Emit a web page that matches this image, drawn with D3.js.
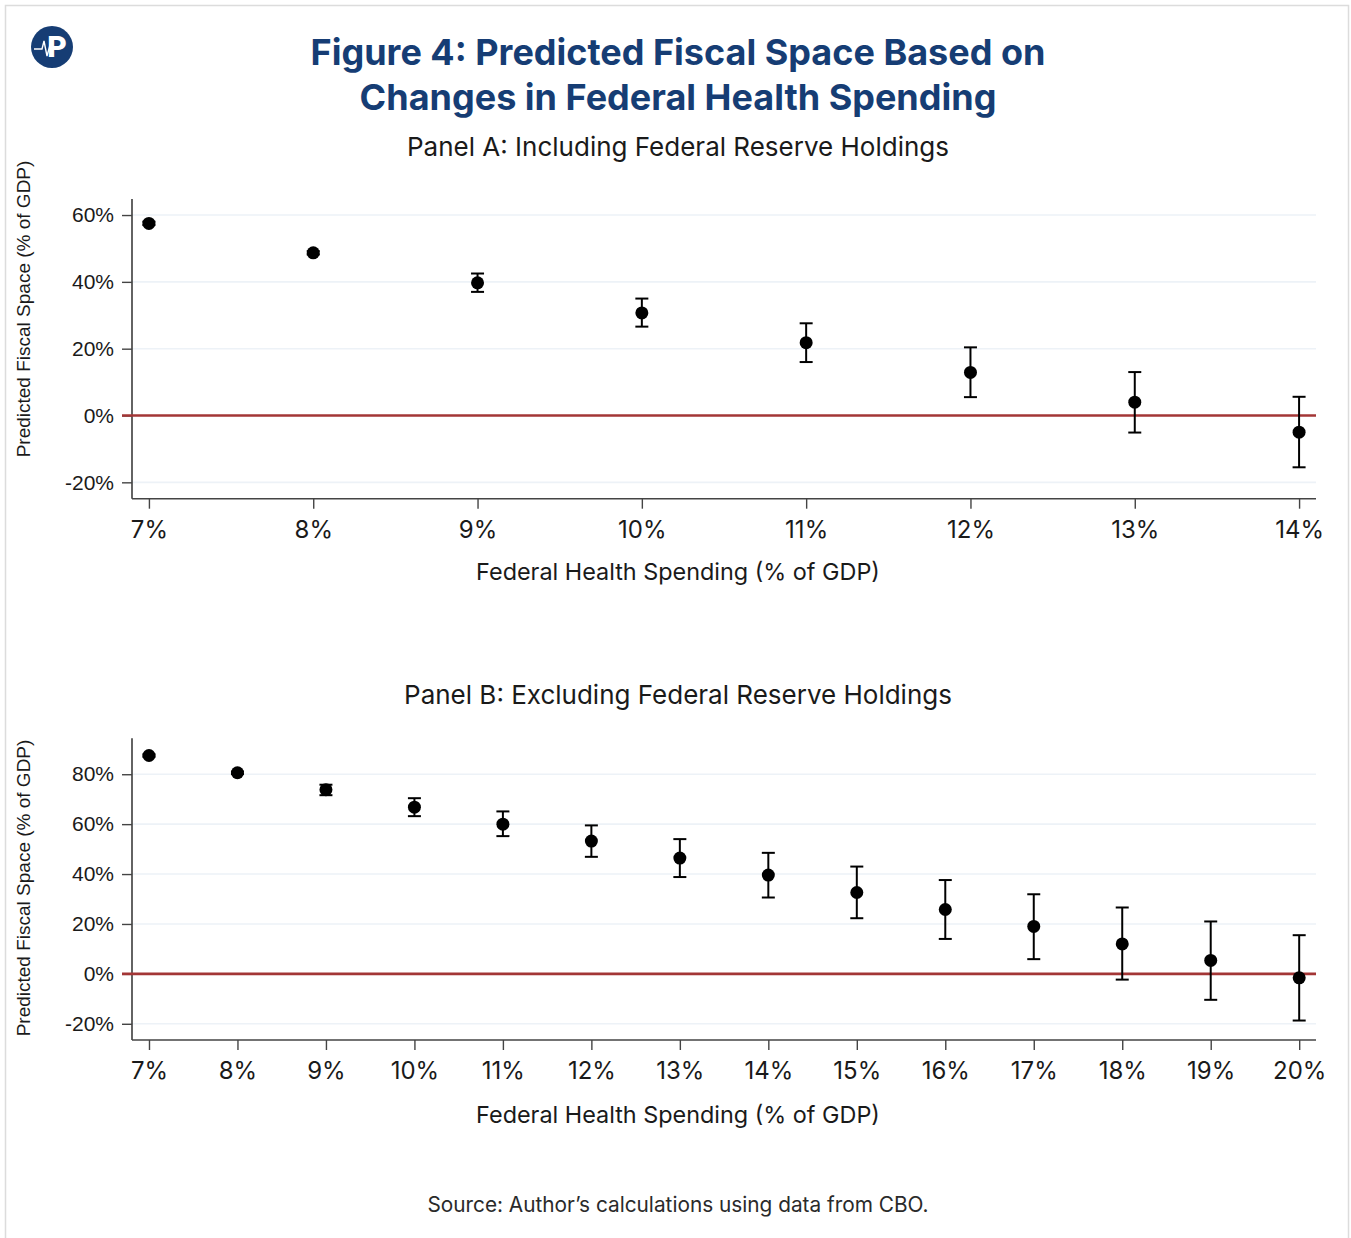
<!DOCTYPE html>
<html>
<head>
<meta charset="utf-8">
<script src="https://cdn.jsdelivr.net/npm/d3@7/dist/d3.min.js"></script>
<style>
  html, body { margin: 0; padding: 0; background: #fff; }
  svg { display: block; }
</style>
</head>
<body>
<svg id="chart" width="1351" height="1238"></svg>
<script>
// Panel A: including Federal Reserve holdings (health spending 7%–14% of GDP)
const panelAHealth = [7, 8, 9, 10, 11, 12, 13, 14];
const panelAFit    = [57.5, 48.7, 39.7, 30.7, 21.8, 12.9, 4.0, -5.0];
const panelALow    = [57.0, 48.2, 37.0, 26.6, 16.0, 5.5, -5.1, -15.5];
const panelAHigh   = [58.0, 49.2, 42.5, 35.0, 27.6, 20.4, 13.0, 5.6];
const panelATicksY = [-20, 0, 20, 40, 60];

// Panel B: excluding Federal Reserve holdings (health spending 7%–20% of GDP)
const panelBHealth = [7, 8, 9, 10, 11, 12, 13, 14, 15, 16, 17, 18, 19, 20];
const panelBFit    = [87.5, 80.6, 73.8, 66.8, 60.0, 53.2, 46.4, 39.6, 32.6, 25.8, 19.0, 12.0, 5.4, -1.6];
const panelBLow    = [87.0, 80.1, 71.6, 63.2, 55.2, 46.9, 38.8, 30.6, 22.3, 14.0, 5.9, -2.3, -10.4, -18.7];
const panelBHigh   = [88.0, 81.1, 75.8, 70.4, 65.1, 59.5, 54.0, 48.5, 43.0, 37.6, 31.9, 26.6, 21.0, 15.5];
const panelBTicksY = [-20, 0, 20, 40, 60, 80];

const svg = d3.select("#chart");
const navy = "#163d74";
const plexFont = "'Inter', 'Roboto', sans-serif";
const arialFont = "'Liberation Sans', Arial, sans-serif";

// page frame
svg.append("rect")
  .attr("x", 5.5).attr("y", 5.5)
  .attr("width", 1343).attr("height", 1250)
  .attr("fill", "#fff").attr("stroke", "#dcdcdc").attr("stroke-width", 1.5);

// logo: navy disc with a pulse line and a "P"
const logo = svg.append("g").attr("transform", "translate(52,47)");
logo.append("circle").attr("r", 21).attr("fill", navy);
logo.append("text")
  .attr("x", 5).attr("y", 10)
  .attr("text-anchor", "middle")
  .attr("font-family", "'Roboto', sans-serif").attr("font-weight", 900)
  .attr("font-size", 30).attr("fill", "#fff").text("P");
logo.append("path")
  .attr("d", "M-18,2 L-10,2 L-8,-6 L-5,9 L-2,-2 L0,2 L4,2")
  .attr("fill", "none").attr("stroke", "#fff").attr("stroke-width", 1.4);

// main title
const title = svg.append("text")
  .attr("text-anchor", "middle")
  .attr("font-family", plexFont).attr("font-weight", 700)
  .attr("font-size", 36).attr("fill", navy);
title.append("tspan").attr("x", 678).attr("y", 65).text("Figure 4: Predicted Fiscal Space Based on");
title.append("tspan").attr("x", 678).attr("y", 110).text("Changes in Federal Health Spending");

function drawPanel(opt) {
  const { health, fit, low, high, ticksY, xDomain, yDomain, top, bottom, left, right,
          titleText, titleY, xTitleY, yTitleY } = opt;

  const x = d3.scaleLinear().domain(xDomain).range([left, right]);
  const y = d3.scaleLinear().domain(yDomain).range([bottom, top]);
  const g = svg.append("g");

  g.append("text")
    .attr("x", 678).attr("y", titleY)
    .attr("text-anchor", "middle")
    .attr("font-family", plexFont).attr("font-size", 26).attr("fill", "#1a1a1a")
    .text(titleText);

  // horizontal gridlines
  g.append("g").selectAll("line").data(ticksY.filter(d => d !== 0)).join("line")
    .attr("x1", left).attr("x2", right)
    .attr("y1", d => y(d)).attr("y2", d => y(d))
    .attr("stroke", "#edf2f7").attr("stroke-width", 1.6);

  // y axis
  const yAxis = g.append("g")
    .attr("transform", `translate(${left},0)`)
    .call(d3.axisLeft(y).tickValues(ticksY).tickSize(10).tickPadding(8).tickFormat(d => d + "%"));
  yAxis.select(".domain").attr("stroke", "#222").attr("stroke-width", 1.4)
    .attr("d", `M0,${top}V${bottom}`);
  yAxis.selectAll(".tick line").attr("stroke", "#444").attr("stroke-width", 1.4);
  yAxis.selectAll(".tick text").attr("font-family", arialFont).attr("font-size", 21).attr("fill", "#1a1a1a");

  // x axis
  const xAxis = g.append("g")
    .attr("transform", `translate(0,${bottom})`)
    .call(d3.axisBottom(x).tickValues(health).tickSize(10).tickPadding(12).tickFormat(d => d + "%"));
  xAxis.select(".domain").attr("stroke", "#444").attr("stroke-width", 1.4)
    .attr("d", `M${left},0H${right}`);
  xAxis.selectAll(".tick line").attr("stroke", "#444").attr("stroke-width", 1.4);
  xAxis.selectAll(".tick text").attr("font-family", plexFont).attr("font-size", 24).attr("fill", "#1a1a1a");

  // zero reference line
  g.append("line")
    .attr("x1", left - 10).attr("x2", right)
    .attr("y1", y(0)).attr("y2", y(0))
    .attr("stroke", "#a33636").attr("stroke-width", 2.6);

  // axis titles
  g.append("text")
    .attr("x", 678).attr("y", xTitleY)
    .attr("text-anchor", "middle")
    .attr("font-family", plexFont).attr("font-size", 23.4).attr("fill", "#1a1a1a")
    .text("Federal Health Spending (% of GDP)");
  g.append("text")
    .attr("transform", `translate(30,${yTitleY}) rotate(-90)`)
    .attr("text-anchor", "middle")
    .attr("font-family", arialFont).attr("font-size", 19).attr("fill", "#1a1a1a")
    .text("Predicted Fiscal Space (% of GDP)");

  // confidence intervals
  const rows = health.map((h, i) => ({ h, fit: fit[i], low: low[i], high: high[i] }));
  const ci = g.append("g").attr("stroke", "#000").attr("stroke-width", 2);
  ci.selectAll("line.v").data(rows).join("line").attr("class", "v")
    .attr("x1", d => x(d.h)).attr("x2", d => x(d.h))
    .attr("y1", d => y(d.low)).attr("y2", d => y(d.high));
  ci.selectAll("line.t").data(rows).join("line").attr("class", "t")
    .attr("x1", d => x(d.h) - 6.5).attr("x2", d => x(d.h) + 6.5)
    .attr("y1", d => y(d.high)).attr("y2", d => y(d.high));
  ci.selectAll("line.b").data(rows).join("line").attr("class", "b")
    .attr("x1", d => x(d.h) - 6.5).attr("x2", d => x(d.h) + 6.5)
    .attr("y1", d => y(d.low)).attr("y2", d => y(d.low));

  // point estimates
  g.append("g").selectAll("circle").data(rows).join("circle")
    .attr("cx", d => x(d.h)).attr("cy", d => y(d.fit))
    .attr("r", 6.5).attr("fill", "#000");
}

drawPanel({
  health: panelAHealth, fit: panelAFit, low: panelALow, high: panelAHigh, ticksY: panelATicksY,
  xDomain: [6.897, 14.103], yDomain: [-24.9, 64.8],
  top: 199, bottom: 498.7, left: 132, right: 1316,
  titleText: "Panel A: Including Federal Reserve Holdings",
  titleY: 156, xTitleY: 580, yTitleY: 309
});

drawPanel({
  health: panelBHealth, fit: panelBFit, low: panelBLow, high: panelBHigh, ticksY: panelBTicksY,
  xDomain: [6.808, 20.19], yDomain: [-26.5, 94.4],
  top: 738.3, bottom: 1040, left: 132, right: 1316,
  titleText: "Panel B: Excluding Federal Reserve Holdings",
  titleY: 704, xTitleY: 1123, yTitleY: 888
});

// source note
svg.append("text")
  .attr("x", 678).attr("y", 1212)
  .attr("text-anchor", "middle")
  .attr("font-family", plexFont).attr("font-size", 20.8).attr("fill", "#2a2a2a")
  .text("Source: Author\u2019s calculations using data from CBO.");
</script>
</body>
</html>
